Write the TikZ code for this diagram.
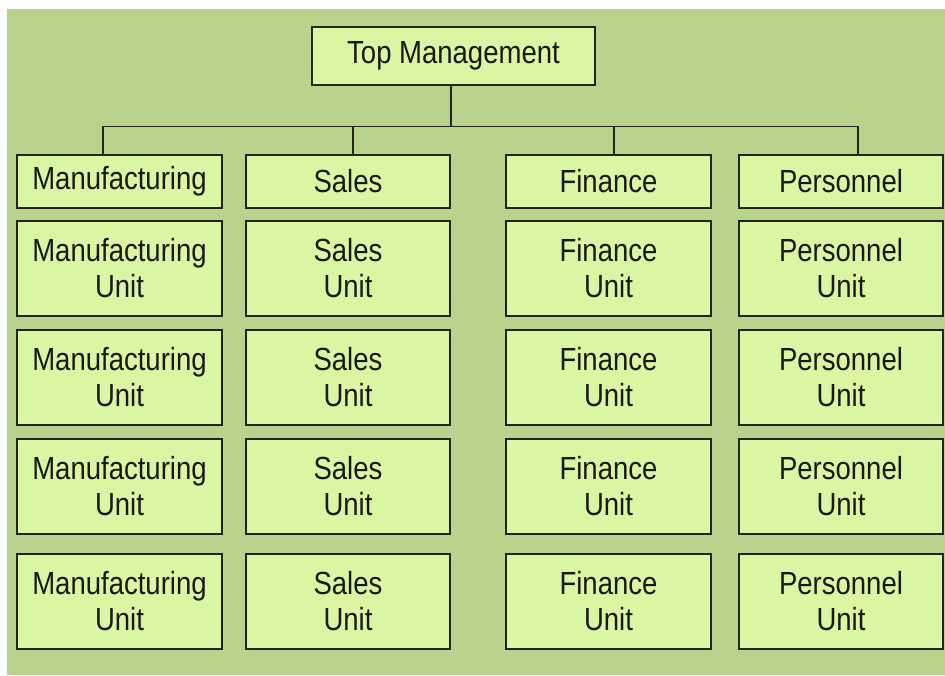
\documentclass[tikz,border=0pt]{standalone}
\usepackage{fontspec}
\setmainfont[FakeStretch=0.86]{Liberation Sans}
\definecolor{bggreen}{RGB}{186,211,140}
\definecolor{boxgreen}{RGB}{218,246,162}
\definecolor{edge}{RGB}{34,34,30}
\begin{document}
\begin{tikzpicture}[x=1pt,y=-1pt,
  box/.style={draw=edge,fill=boxgreen,line width=1.5pt,rectangle,inner sep=0pt,
    font=\fontsize{32}{36}\selectfont,text=black!90,align=center},
  hdr/.style={box,minimum height=53pt},
  unitbox/.style={box,minimum height=95pt},
  wa/.style={minimum width=205pt},
  wb/.style={minimum width=204pt},
  link/.style={draw=edge,line width=1.5pt}]
\useasboundingbox (0,0) rectangle (945,675);
\fill[white] (0,0) rectangle (945,675);
\fill[bggreen] (7,9) rectangle (945,675);
\node[box,minimum width=283pt,minimum height=58pt] (top) at (453.5,56) {Top Management};
% headers
\node[hdr,wa] (h1) at (119.5,181.5) {Manufacturing};
\node[hdr,wb] (h2) at (348,181.5) {Sales};
\node[hdr,wa] (h3) at (608.5,181.5) {Finance};
\node[hdr,wb] (h4) at (841,181.5) {Personnel};
% unit rows
\foreach \r/\y in {1/268.5,2/377.5,3/486.5,4/601.5}{
  \node[unitbox,wa] (m\r) at (119.5,\y) {Manufacturing\\Unit};
  \node[unitbox,wb] (s\r) at (348,\y) {Sales\\Unit};
  \node[unitbox,wa] (f\r) at (608.5,\y) {Finance\\Unit};
  \node[unitbox,wb] (p\r) at (841,\y) {Personnel\\Unit};
}
% connectors
\coordinate (bus) at (451,127);
\draw[link] ([xshift=-2.5pt]top.south) -- (bus);
\draw[link] ([xshift=-16.5pt]h1.north) -- ++(0,-28) -| ([xshift=17pt]h4.north);
\draw[link] ([xshift=5pt]h2.north) -- ++(0,-28);
\draw[link] ([xshift=5.5pt]h3.north) -- ++(0,-28);
\end{tikzpicture}
\end{document}
